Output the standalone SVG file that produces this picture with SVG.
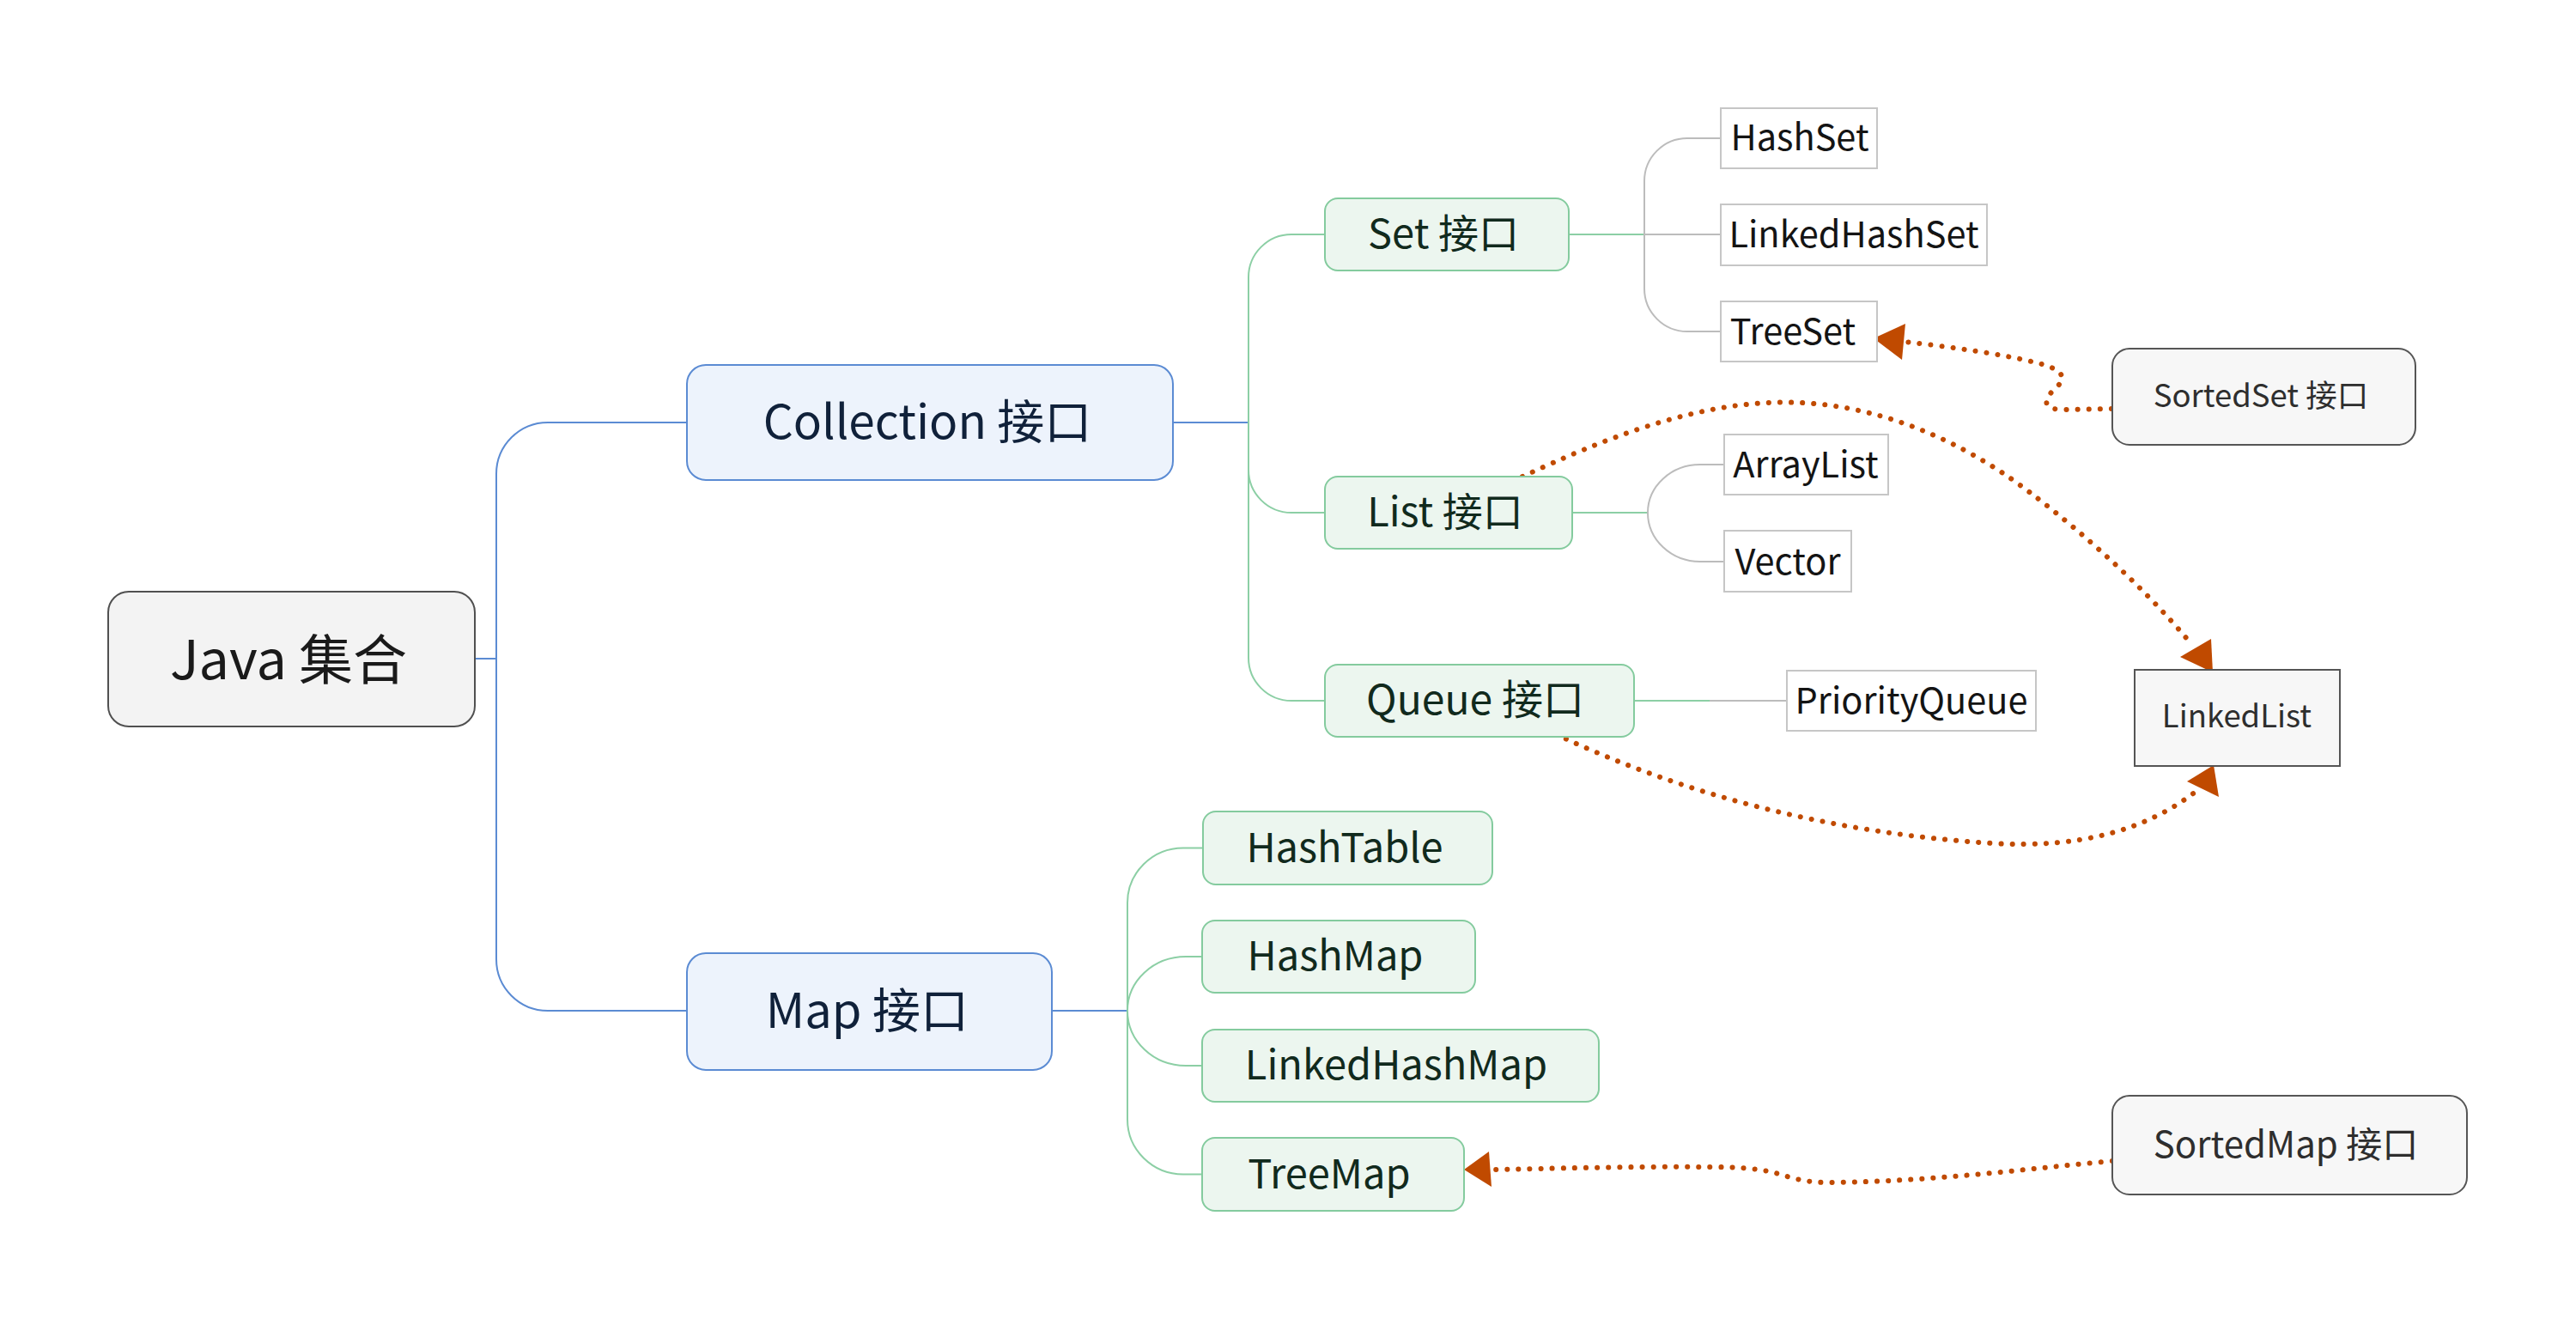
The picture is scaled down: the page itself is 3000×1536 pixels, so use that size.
<svg xmlns="http://www.w3.org/2000/svg" width="3000" height="1536" viewBox="0 0 3000 1536">
<style>
text { font-family: "Noto Sans CJK SC", "Noto Sans", sans-serif; text-anchor: middle; }
.root rect { fill: #f3f3f3; stroke: #505050; stroke-width: 2; }
.root text { fill: #1a1a1a; }
.l1 rect { fill: #edf3fc; stroke: #5b8bd3; stroke-width: 2; }
.l1 text { fill: #10213a; }
.l2 rect { fill: #ecf6ef; stroke: #84cb9e; stroke-width: 2; }
.l2 text { fill: #112a1d; }
.leaf rect { fill: #ffffff; stroke: #c6c6c6; stroke-width: 2; }
.leaf text { fill: #141414; font-size: 41.5px; }
.float rect { fill: #f7f7f7; stroke: #555555; stroke-width: 2; }
.float text { fill: #2e2e2e; }
.mapc text { font-size: 47px; }
.ln { fill: none; stroke-width: 2; }
.blue { stroke: #5b8bd3; }
.green { stroke: #8ccfa5; }
.gray { stroke: #bcbcbc; }
.rel { fill: none; stroke: #c04a00; stroke-width: 6; stroke-linecap: round; stroke-dasharray: 0.1 13; }
.head { fill: #c04a00; }
</style>

<g id="connectors">
  <path class="ln blue" d="M 553 767 H 578"/>
  <path class="ln blue" d="M 800 492 H 638 A 60 60 0 0 0 578 552 V 1117 A 60 60 0 0 0 638 1177 H 800"/>
  <path class="ln blue" d="M 1366 492 H 1454"/>
  <path class="ln green" d="M 1543 273 H 1504 A 50 50 0 0 0 1454 323 V 766 A 50 50 0 0 0 1504 816 H 1543"/>
  <path class="ln green" d="M 1454 547 A 50 50 0 0 0 1504 597 H 1543"/>
  <path class="ln green" d="M 1827 273 H 1915"/>
  <path class="ln gray" d="M 2004 161 H 1965 A 50 50 0 0 0 1915 211 V 336 A 50 50 0 0 0 1965 386 H 2004"/>
  <path class="ln gray" d="M 1915 273 H 2004"/>
  <path class="ln green" d="M 1831 597 H 1919"/>
  <path class="ln gray" d="M 1919 597 A 61 56 0 0 1 1980 541 H 2008"/>
  <path class="ln gray" d="M 1919 597 A 61 57 0 0 0 1980 654 H 2008"/>
  <path class="ln green" d="M 1903 816 H 1991"/>
  <path class="ln gray" d="M 1991 816 H 2081"/>
  <path class="ln blue" d="M 1225 1177 H 1313"/>
  <path class="ln green" d="M 1400 987.5 H 1378 A 65 64 0 0 0 1313 1051.5 V 1303.5 A 65 64 0 0 0 1378 1367.5 H 1400"/>
  <path class="ln green" d="M 1313 1177 A 68 63 0 0 1 1381 1114 H 1400"/>
  <path class="ln green" d="M 1313 1177 A 68 64 0 0 0 1381 1241 H 1400"/>

  <path class="rel" d="M 2459 476 L 2400 477 C 2375 476 2382 462 2396 450 C 2410 436 2395 428 2370 422 C 2330 412 2270 404 2219 398"/>
  <polygon class="head" points="2182,394 2219,377 2215,419"/>
  <path class="rel" d="M 1773 555 C 1860 515 1970 468 2080 468.5 C 2180 469 2270 508 2340 556 C 2400 598 2490 675 2552 750"/>
  <polygon class="head" points="2575,744 2539,765 2577,783"/>
  <path class="rel" d="M 1812 855 C 1960 925 2130 970 2320 982 C 2420 988 2500 968 2562 918"/>
  <polygon class="head" points="2578,891 2547,910 2584,928"/>
  <path class="rel" d="M 2460 1352 C 2350 1362 2250 1376 2130 1377 C 2100 1377 2085 1371 2068 1366 C 2045 1360 2020 1359 1990 1359 C 1900 1358 1800 1361 1737 1362"/>
  <polygon class="head" points="1705,1362 1734,1341 1737,1382"/>
</g>

<g id="java" class="root">
  <rect x="126" y="689" width="427" height="157" rx="24"/>
  <text x="336" y="791" font-size="63">Java 集合</text>
</g>
<g id="collection" class="l1">
  <rect x="800" y="425" width="566" height="134" rx="22"/>
  <text x="1080" y="511" font-size="55">Collection 接口</text>
</g>
<g id="map" class="l1">
  <rect x="800" y="1110" width="425" height="136" rx="22"/>
  <text x="1010" y="1197" font-size="56">Map 接口</text>
</g>
<g id="set" class="l2">
  <rect x="1543" y="231" width="284" height="84" rx="15"/>
  <text x="1681" y="289" font-size="47">Set 接口</text>
</g>
<g id="list" class="l2">
  <rect x="1543" y="555" width="288" height="84" rx="15"/>
  <text x="1683" y="613" font-size="47">List 接口</text>
</g>
<g id="queue" class="l2">
  <rect x="1543" y="774" width="360" height="84" rx="15"/>
  <text x="1718" y="832" font-size="48">Queue 接口</text>
</g>
<g id="hashset" class="leaf">
  <rect x="2004" y="126" width="182" height="70"/>
  <text x="2096" y="175">HashSet</text>
</g>
<g id="linkedhashset" class="leaf">
  <rect x="2004" y="238" width="310" height="71"/>
  <text x="2159" y="288">LinkedHashSet</text>
</g>
<g id="treeset" class="leaf">
  <rect x="2004" y="351" width="182" height="70"/>
  <text x="2088" y="401">TreeSet</text>
</g>
<g id="arraylist" class="leaf">
  <rect x="2008" y="506" width="191" height="70"/>
  <text x="2103" y="556">ArrayList</text>
</g>
<g id="vector" class="leaf">
  <rect x="2008" y="618" width="148" height="71"/>
  <text x="2082" y="669">Vector</text>
</g>
<g id="priorityqueue" class="leaf">
  <rect x="2081" y="781" width="290" height="70"/>
  <text x="2226" y="831">PriorityQueue</text>
</g>
<g id="linkedlist" class="float">
  <rect x="2486" y="780" width="239" height="112"/>
  <text x="2605" y="847" font-size="36.5">LinkedList</text>
</g>
<g id="sortedset" class="float">
  <rect x="2460" y="406" width="353" height="112" rx="20"/>
  <text x="2633" y="474" font-size="36.5">SortedSet 接口</text>
</g>
<g id="sortedmap" class="float">
  <rect x="2460" y="1276" width="413" height="115" rx="20"/>
  <text x="2662" y="1348" font-size="42">SortedMap 接口</text>
</g>
<g id="hashtable" class="l2 mapc">
  <rect x="1401" y="945" width="337" height="85" rx="15"/>
  <text x="1566" y="1004">HashTable</text>
</g>
<g id="hashmap" class="l2 mapc">
  <rect x="1400" y="1072" width="318" height="84" rx="15"/>
  <text x="1555" y="1130">HashMap</text>
</g>
<g id="linkedhashmap" class="l2 mapc">
  <rect x="1400" y="1199" width="462" height="84" rx="15"/>
  <text x="1626" y="1257">LinkedHashMap</text>
</g>
<g id="treemap" class="l2 mapc">
  <rect x="1400" y="1325" width="305" height="85" rx="15"/>
  <text x="1548" y="1384">TreeMap</text>
</g>
</svg>
